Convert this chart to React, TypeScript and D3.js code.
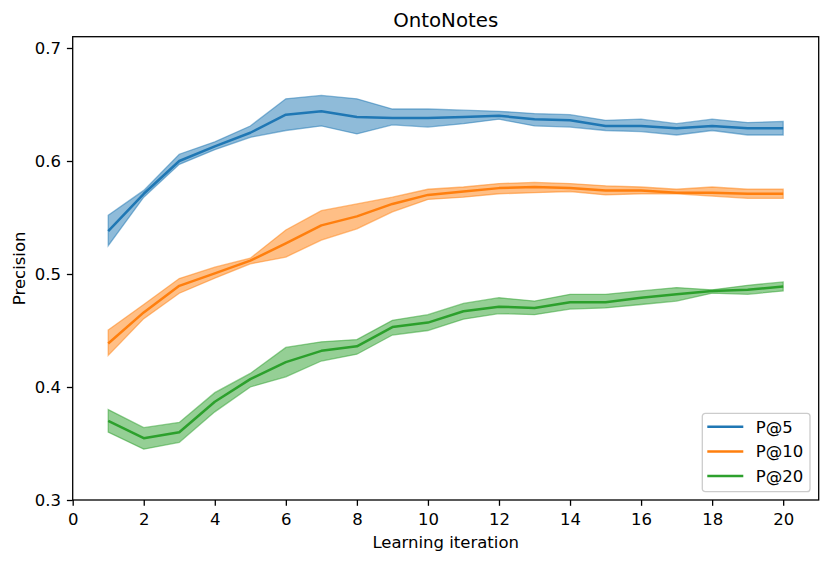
import { useEffect, useRef } from "react";
import * as d3 from "d3";

const iterations = [1, 2, 3, 4, 5, 6, 7, 8, 9, 10, 11, 12, 13, 14, 15, 16, 17, 18, 19, 20];

const p5Mean  = [0.538, 0.571, 0.600, 0.613, 0.625, 0.641, 0.644, 0.639, 0.638, 0.638, 0.639, 0.640, 0.637, 0.636, 0.631, 0.631, 0.629, 0.631, 0.629, 0.629];
const p5Upper = [0.552, 0.574, 0.606, 0.617, 0.631, 0.655, 0.658, 0.655, 0.646, 0.646, 0.645, 0.644, 0.642, 0.641, 0.636, 0.637, 0.633, 0.637, 0.634, 0.635];
const p5Lower = [0.525, 0.568, 0.597, 0.610, 0.621, 0.627, 0.631, 0.624, 0.632, 0.630, 0.633, 0.637, 0.631, 0.630, 0.627, 0.626, 0.623, 0.627, 0.623, 0.623];

const p10Mean  = [0.4385, 0.466, 0.4895, 0.5006, 0.5118, 0.527, 0.543, 0.551, 0.562, 0.570, 0.573, 0.576, 0.577, 0.576, 0.574, 0.574, 0.572, 0.572, 0.571, 0.571];
const p10Upper = [0.4505, 0.473, 0.496, 0.506, 0.514, 0.539, 0.556, 0.562, 0.568, 0.575, 0.577, 0.580, 0.581, 0.580, 0.578, 0.577, 0.575, 0.577, 0.575, 0.575];
const p10Lower = [0.428, 0.4605, 0.483, 0.4963, 0.509, 0.515, 0.530, 0.540, 0.555, 0.566, 0.568, 0.571, 0.572, 0.573, 0.570, 0.571, 0.571, 0.569, 0.567, 0.567];

const p20Mean  = [0.370, 0.3547, 0.360, 0.387, 0.407, 0.422, 0.432, 0.436, 0.453, 0.457, 0.467, 0.471, 0.470, 0.475, 0.475, 0.479, 0.482, 0.485, 0.486, 0.489];
const p20Upper = [0.380, 0.364, 0.3686, 0.395, 0.412, 0.435, 0.440, 0.442, 0.459, 0.464, 0.474, 0.479, 0.476, 0.482, 0.482, 0.485, 0.488, 0.486, 0.490, 0.493];
const p20Lower = [0.360, 0.345, 0.351, 0.378, 0.400, 0.409, 0.423, 0.429, 0.446, 0.450, 0.460, 0.465, 0.464, 0.469, 0.470, 0.473, 0.476, 0.483, 0.482, 0.485];

const seriesNames = ["P@5", "P@10", "P@20"];
const seriesColors = ["#1f77b4", "#ff7f0e", "#2ca02c"];
const xTicks = [0, 2, 4, 6, 8, 10, 12, 14, 16, 18, 20];
const yTicks = [0.3, 0.4, 0.5, 0.6, 0.7];

const series = [
  { mean: p5Mean, upper: p5Upper, lower: p5Lower },
  { mean: p10Mean, upper: p10Upper, lower: p10Lower },
  { mean: p20Mean, upper: p20Upper, lower: p20Lower },
];

export default function App() {
  const svgRef = useRef<SVGSVGElement>(null);

  useEffect(() => {
    const svg = d3.select(svgRef.current);
    svg.selectAll("*").remove();

    const width = 831, height = 563;
    const margin = { top: 36.7, right: 12.3, bottom: 63, left: 72.7 };
    const W = width - margin.left - margin.right;
    const H = height - margin.top - margin.bottom;
    const font = "DejaVu Sans, sans-serif";
    const fs = 16.5;

    const x = d3.scaleLinear().domain([0, 21]).range([0, W]);
    const y = d3.scaleLinear().domain([0.3, 0.71]).range([H, 0]);

    const g = svg.append("g").attr("transform", `translate(${margin.left},${margin.top})`);

    // bands then lines
    series.forEach((s, i) => {
      const pts = iterations.map((it, j) => ({ it, lo: s.lower[j], hi: s.upper[j] }));
      const area = d3.area<typeof pts[0]>()
        .x(d => x(d.it)).y0(d => y(d.lo)).y1(d => y(d.hi));
      g.append("path").attr("d", area(pts)!)
        .attr("fill", seriesColors[i]).attr("fill-opacity", 0.5)
        .attr("stroke", seriesColors[i]).attr("stroke-opacity", 0.5).attr("stroke-width", 1.3);
    });
    series.forEach((s, i) => {
      const line = d3.line<number>().x((_, j) => x(iterations[j])).y(d => y(d));
      g.append("path").attr("d", line(s.mean)!)
        .attr("fill", "none").attr("stroke", seriesColors[i]).attr("stroke-width", 2.5)
        .attr("stroke-linejoin", "round");
    });

    // axes
    const xAxis = g.append("g").attr("transform", `translate(0,${H})`)
      .call(d3.axisBottom(x).tickValues(xTicks).tickSize(5.8).tickPadding(7.5).tickFormat(d3.format("d")));
    const yAxis = g.append("g")
      .call(d3.axisLeft(y).tickValues(yTicks).tickSize(5.8).tickPadding(5.8).tickFormat(d3.format(".1f")));
    [xAxis, yAxis].forEach(ax => {
      ax.select(".domain").remove();
      ax.selectAll(".tick line").attr("stroke", "#000").attr("stroke-width", 1.3);
      ax.selectAll(".tick text").attr("fill", "#000").attr("font-size", fs).attr("font-family", font);
    });

    // frame
    g.append("rect").attr("width", W).attr("height", H)
      .attr("fill", "none").attr("stroke", "#000").attr("stroke-width", 1.3);

    // labels
    svg.append("text").attr("x", margin.left + W / 2).attr("y", 26.7)
      .attr("text-anchor", "middle").attr("font-size", 19.8).attr("font-family", font).text("OntoNotes");
    svg.append("text").attr("x", margin.left + W / 2).attr("y", 548)
      .attr("text-anchor", "middle").attr("font-size", fs).attr("font-family", font).text("Learning iteration");
    svg.append("text").attr("transform", `translate(25,${margin.top + H / 2}) rotate(-90)`)
      .attr("text-anchor", "middle").attr("font-size", fs).attr("font-family", font).text("Precision");

    // legend
    const lg = svg.append("g").attr("transform", "translate(702.3,413.3)");
    lg.append("rect").attr("width", 107.7).attr("height", 78.4).attr("rx", 3)
      .attr("fill", "#fff").attr("fill-opacity", 0.8).attr("stroke", "#ccc").attr("stroke-width", 1.3);
    seriesNames.forEach((name, i) => {
      const cy = 13.4 + i * 24.7;
      lg.append("line").attr("x1", 5).attr("x2", 41).attr("y1", cy).attr("y2", cy)
        .attr("stroke", seriesColors[i]).attr("stroke-width", 2.5);
      lg.append("text").attr("x", 53.4).attr("y", cy + 6).attr("font-size", fs)
        .attr("font-family", font).text(name);
    });
  }, []);

  return <svg ref={svgRef} width={831} height={563} style={{ position: "absolute", left: 0, top: 0, background: "#fff" }} />;
}
